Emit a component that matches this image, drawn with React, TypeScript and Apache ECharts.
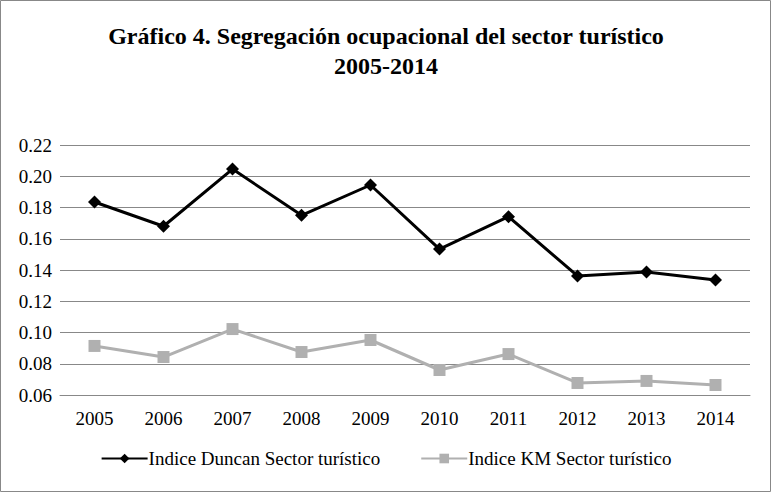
import { useEffect, useRef } from 'react';
import * as echarts from 'echarts';

const years = ['2005', '2006', '2007', '2008', '2009', '2010', '2011', '2012', '2013', '2014'];
const duncan = [0.1835, 0.168, 0.2046, 0.175, 0.1944, 0.1534, 0.1741, 0.1362, 0.1387, 0.1336];
const km = [0.0914, 0.0843, 0.1022, 0.0875, 0.0952, 0.076, 0.0862, 0.0677, 0.069, 0.0664];

const font = '"Liberation Serif", "Times New Roman", serif';

export default function App() {
  const ref = useRef<HTMLDivElement>(null);

  useEffect(() => {
    if (!ref.current) return;
    const chart = echarts.init(ref.current, null, { renderer: 'svg' });
    chart.setOption({
      animation: false,
      textStyle: { fontFamily: font },
      title: {
        text: 'Gráfico 4. Segregación ocupacional del sector turístico\n2005-2014',
        left: 'center',
        top: 16,
        textStyle: { fontFamily: font, fontSize: 24, fontWeight: 'bold', color: '#000', lineHeight: 30 },
      },
      graphic: [
        {
          type: 'rect',
          shape: { x: 0.5, y: 0.5, width: 770, height: 491 },
          style: { fill: 'none', stroke: '#888', lineWidth: 1 },
        },
      ],
      legend: {
        bottom: 20,
        left: 'center',
        itemGap: 40,
        itemWidth: 46,
        itemHeight: 12,
        textStyle: { fontFamily: font, fontSize: 19, color: '#000', padding: [0, 0, 0, -4] },
        data: ['Indice Duncan Sector turístico', 'Indice KM Sector turístico'],
      },
      grid: { left: 60, right: 22, top: 145, bottom: 98 },
      xAxis: {
        type: 'category',
        data: years,
        axisLine: { lineStyle: { color: '#888' } },
        axisTick: { show: false },
        axisLabel: { color: '#000', fontSize: 19, fontFamily: font, margin: 14 },
      },
      yAxis: {
        type: 'value',
        min: 0.06,
        max: 0.22,
        interval: 0.02,
        axisLine: { show: false },
        axisTick: { show: false },
        splitLine: { lineStyle: { color: '#888' } },
        axisLabel: { color: '#000', fontSize: 19, fontFamily: font, margin: 8, formatter: (v: number) => v.toFixed(2) },
      },
      series: [
        {
          name: 'Indice Duncan Sector turístico',
          type: 'line',
          data: duncan,
          symbol: 'diamond',
          symbolSize: 13,
          lineStyle: { color: '#000', width: 3 },
          itemStyle: { color: '#000' },
        },
        {
          name: 'Indice KM Sector turístico',
          type: 'line',
          data: km,
          symbol: 'rect',
          symbolSize: 12,
          lineStyle: { color: '#b0b0b0', width: 3 },
          itemStyle: { color: '#b0b0b0' },
        },
      ],
    });
    return () => chart.dispose();
  }, []);

  return (
    <div
      ref={ref}
      style={{ position: 'absolute', left: 0, top: 0, width: 772, height: 493, background: '#fff' }}
    />
  );
}
